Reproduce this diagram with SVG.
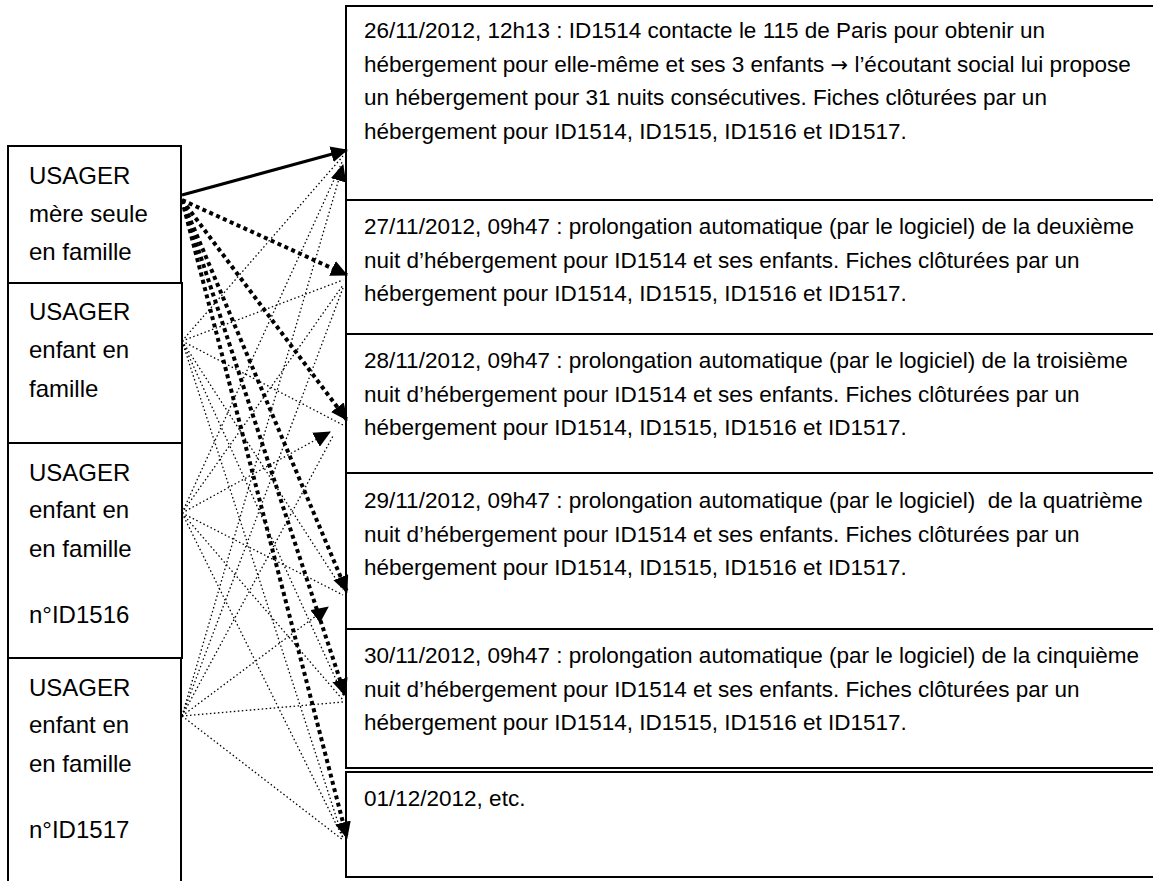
<svg xmlns="http://www.w3.org/2000/svg" width="1153" height="881" viewBox="0 0 1153 881">
<defs>
<style>
.box{fill:#fff;stroke:#000;stroke-width:2}
.lt{font-family:"Liberation Sans",Arial,sans-serif;font-size:24px;fill:#000}
.rt{font-family:"Liberation Sans",Arial,sans-serif;font-size:22.5px;fill:#000;white-space:pre}
.arr{font-family:"DejaVu Sans",sans-serif;font-size:21px}
.solid{stroke:#000;stroke-width:3.2;fill:none}
.thick{stroke:#000;stroke-width:4;stroke-dasharray:4 3.5;fill:none}
.thin{stroke:#000;stroke-width:1.3;stroke-dasharray:1.5 2.5;fill:none}
</style>
<marker id="ah" markerUnits="userSpaceOnUse" markerWidth="18" markerHeight="16" refX="16" refY="8" orient="auto">
<path d="M0,0 L17,8 L0,16 z" fill="#000"/>
</marker>
</defs>
<rect width="1153" height="881" fill="#fff"/>

<g id="left-mere">
<rect class="box" x="8" y="146" width="173" height="137"/>
<text class="lt" x="29" y="184">USAGER</text>
<text class="lt" x="29" y="222">mère seule</text>
<text class="lt" x="29" y="260">en famille</text>
</g>
<g id="left-enfant1">
<rect class="box" x="8" y="283" width="174" height="160"/>
<text class="lt" x="29" y="320">USAGER</text>
<text class="lt" x="29" y="358">enfant en</text>
<text class="lt" x="29" y="397">famille</text>
</g>
<g id="left-enfant2">
<rect class="box" x="8" y="443" width="174" height="215"/>
<text class="lt" x="29" y="481">USAGER</text>
<text class="lt" x="29" y="518">enfant en</text>
<text class="lt" x="29" y="557">en famille</text>
<text class="lt" x="29" y="623">n°ID1516</text>
</g>
<g id="left-enfant3">
<path class="box" d="M8,890 L8,658 L181,658 L181,890"/>
<text class="lt" x="29" y="696">USAGER</text>
<text class="lt" x="29" y="733">enfant en</text>
<text class="lt" x="29" y="772">en famille</text>
<text class="lt" x="29" y="838">n°ID1517</text>
</g>

<g id="evt1">
<rect class="box" x="346" y="6" width="820" height="194"/>
<text class="rt" x="364" y="38">26/11/2012, 12h13 : ID1514 contacte le 115 de Paris pour obtenir un</text>
<text class="rt" x="364" y="71.5">hébergement pour elle-même et ses 3 enfants <tspan class="arr">→</tspan> l’écoutant social lui propose</text>
<text class="rt" x="364" y="105">un hébergement pour 31 nuits consécutives. Fiches clôturées par un</text>
<text class="rt" x="364" y="138.5">hébergement pour ID1514, ID1515, ID1516 et ID1517.</text>
</g>
<g id="evt2">
<rect class="box" x="346" y="200" width="820" height="134"/>
<text class="rt" x="364" y="234">27/11/2012, 09h47 : prolongation automatique (par le logiciel) de la deuxième</text>
<text class="rt" x="364" y="267.5">nuit d’hébergement pour ID1514 et ses enfants. Fiches clôturées par un</text>
<text class="rt" x="364" y="301">hébergement pour ID1514, ID1515, ID1516 et ID1517.</text>
</g>
<g id="evt3">
<rect class="box" x="346" y="334" width="820" height="139"/>
<text class="rt" x="364" y="368">28/11/2012, 09h47 : prolongation automatique (par le logiciel) de la troisième</text>
<text class="rt" x="364" y="401.5">nuit d’hébergement pour ID1514 et ses enfants. Fiches clôturées par un</text>
<text class="rt" x="364" y="435">hébergement pour ID1514, ID1515, ID1516 et ID1517.</text>
</g>
<g id="evt4">
<rect class="box" x="346" y="473" width="820" height="156"/>
<text class="rt" x="364" y="508">29/11/2012, 09h47 : prolongation automatique (par le logiciel)  de la quatrième</text>
<text class="rt" x="364" y="541.5">nuit d’hébergement pour ID1514 et ses enfants. Fiches clôturées par un</text>
<text class="rt" x="364" y="575">hébergement pour ID1514, ID1515, ID1516 et ID1517.</text>
</g>
<g id="evt5">
<rect class="box" x="346" y="629" width="820" height="139"/>
<text class="rt" x="364" y="663">30/11/2012, 09h47 : prolongation automatique (par le logiciel) de la cinquième</text>
<text class="rt" x="364" y="696.5">nuit d’hébergement pour ID1514 et ses enfants. Fiches clôturées par un</text>
<text class="rt" x="364" y="730">hébergement pour ID1514, ID1515, ID1516 et ID1517.</text>
</g>
<g id="evt6">
<rect class="box" x="346" y="772" width="820" height="105"/>
<text class="rt" x="364" y="806">01/12/2012, etc.</text>
</g>

<g id="connectors">
<line class="thin" x1="182" y1="341" x2="343" y2="156"/>
<line class="thin" x1="182" y1="341" x2="343" y2="280"/>
<line class="thin" x1="182" y1="341" x2="343" y2="425"/>
<line class="thin" x1="182" y1="341" x2="343" y2="590"/>
<line class="thin" x1="182" y1="341" x2="343" y2="695"/>
<line class="thin" x1="182" y1="341" x2="343" y2="838"/>
<line class="thin" x1="182" y1="513" x2="343" y2="160"/>
<line class="thin" x1="182" y1="513" x2="343" y2="285"/>
<line class="thin" x1="182" y1="513" x2="330" y2="432" marker-end="url(#ah)"/>
<line class="thin" x1="182" y1="513" x2="343" y2="595"/>
<line class="thin" x1="182" y1="513" x2="343" y2="700"/>
<line class="thin" x1="182" y1="513" x2="343" y2="838"/>
<line class="thin" x1="182" y1="716" x2="343" y2="165" marker-end="url(#ah)"/>
<line class="thin" x1="182" y1="716" x2="343" y2="288"/>
<line class="thin" x1="182" y1="716" x2="333" y2="436"/>
<line class="thin" x1="182" y1="716" x2="328" y2="607" marker-end="url(#ah)"/>
<line class="thin" x1="182" y1="716" x2="343" y2="702"/>
<line class="thin" x1="182" y1="716" x2="343" y2="840"/>
<line class="solid" x1="182" y1="195" x2="347" y2="150" marker-end="url(#ah)"/>
<line class="thick" x1="182" y1="200" x2="347" y2="275" marker-end="url(#ah)"/>
<line class="thick" x1="182" y1="200" x2="347" y2="420" marker-end="url(#ah)"/>
<line class="thick" x1="182" y1="200" x2="347" y2="592" marker-end="url(#ah)"/>
<line class="thick" x1="182" y1="200" x2="345" y2="695" marker-end="url(#ah)"/>
<line class="thick" x1="182" y1="200" x2="347" y2="838" marker-end="url(#ah)"/>
</g>
</svg>
